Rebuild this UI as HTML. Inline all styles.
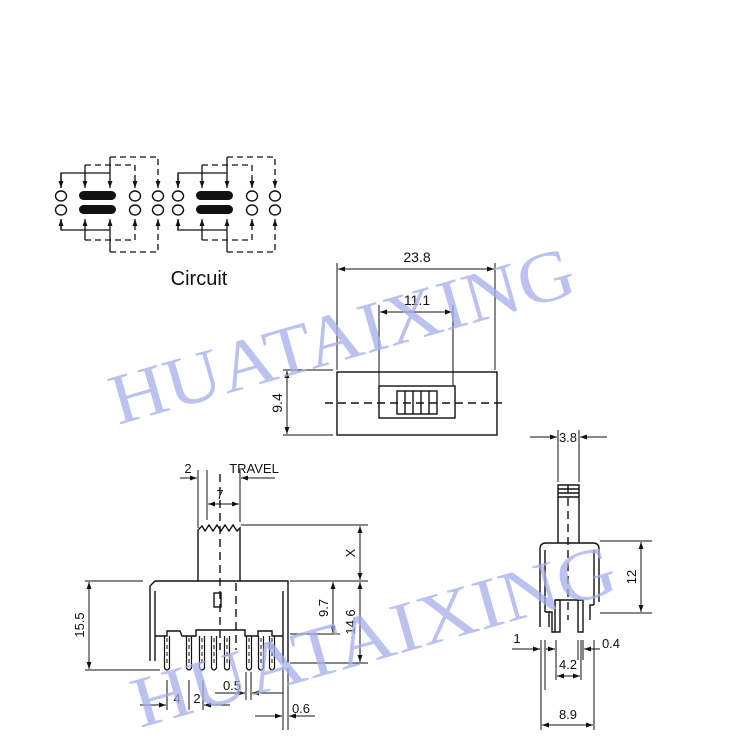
<!DOCTYPE html>
<html><head><meta charset="utf-8"><style>
html,body{margin:0;padding:0;background:#fff;}
svg{display:block;}
text{font-family:"Liberation Sans",Arial,sans-serif;fill:#111;}
.wm{font-family:"Liberation Serif",serif;fill:#a4aeea;fill-opacity:0.75;}
</style></head><body>
<svg width="735" height="744" viewBox="0 0 735 744" xmlns="http://www.w3.org/2000/svg">
<defs>
<marker id="a" viewBox="0 0 10 10" refX="10" refY="5" markerWidth="7" markerHeight="7" orient="auto-start-reverse" markerUnits="userSpaceOnUse"><path d="M0,1.5 L10,5 L0,8.5 z" fill="#111"/></marker>
<g id="cir">
  <g fill="none" stroke="#111" stroke-width="1.4">
    <ellipse cx="61" cy="196" rx="5.5" ry="5"/><ellipse cx="61" cy="210" rx="5.5" ry="5"/>
    <ellipse cx="135" cy="196" rx="5.5" ry="5"/><ellipse cx="135" cy="210" rx="5.5" ry="5"/>
    <ellipse cx="158" cy="196" rx="5.5" ry="5"/><ellipse cx="158" cy="210" rx="5.5" ry="5"/>
  </g>
  <rect x="79" y="191" width="37" height="9" rx="4.5" fill="#111"/>
  <rect x="79" y="205" width="37" height="9" rx="4.5" fill="#111"/>
  <g fill="none" stroke="#111" stroke-width="1.3">
    <polyline points="61,188 61,173 110,173"/>
    <line x1="61" y1="173" x2="61" y2="188" marker-end="url(#a)"/>
    <line x1="85" y1="165" x2="85" y2="188" marker-end="url(#a)"/>
    <line x1="110" y1="157" x2="110" y2="188" marker-end="url(#a)"/>
    <polyline points="61,219 61,230 110,230"/>
    <line x1="61" y1="230" x2="61" y2="219" marker-end="url(#a)"/>
    <line x1="85" y1="240" x2="85" y2="219" marker-end="url(#a)"/>
    <line x1="110" y1="252" x2="110" y2="219" marker-end="url(#a)"/>
  </g>
  <g fill="none" stroke="#111" stroke-width="1.3" stroke-dasharray="6,4">
    <polyline points="85,165 135,165 135,186"/>
    <polyline points="110,157 158,157 158,186"/>
    <polyline points="85,240 135,240 135,221"/>
    <polyline points="110,252 158,252 158,221"/>
  </g>
  <g fill="none" stroke="#111" stroke-width="1.3">
    <line x1="135" y1="180" x2="135" y2="188" marker-end="url(#a)"/>
    <line x1="158" y1="180" x2="158" y2="188" marker-end="url(#a)"/>
    <line x1="135" y1="226" x2="135" y2="219" marker-end="url(#a)"/>
    <line x1="158" y1="226" x2="158" y2="219" marker-end="url(#a)"/>
  </g>
</g>
</defs>

<!-- circuit -->
<use href="#cir"/>
<use href="#cir" transform="translate(117,0)"/>
<text x="199" y="285" font-size="20" text-anchor="middle">Circuit</text>

<!-- top view -->
<g fill="none" stroke="#111" stroke-width="1.4">
  <rect x="337" y="372" width="160" height="63"/>
  <rect x="379" y="386" width="76" height="32"/>
  <rect x="397" y="391" width="40" height="23"/>
  <line x1="405" y1="391" x2="405" y2="414"/><line x1="413" y1="391" x2="413" y2="414"/>
  <line x1="421" y1="391" x2="421" y2="414"/><line x1="429" y1="391" x2="429" y2="414"/>
  <line x1="325" y1="403" x2="505" y2="403" stroke-dasharray="8,5"/>
  <line x1="337" y1="263" x2="337" y2="370" stroke-width="1"/>
  <line x1="495" y1="263" x2="495" y2="370" stroke-width="1"/>
  <line x1="338" y1="269" x2="494" y2="269" stroke-width="1" marker-start="url(#a)" marker-end="url(#a)"/>
  <line x1="379" y1="305" x2="379" y2="386" stroke-width="1"/>
  <line x1="453" y1="305" x2="453" y2="386" stroke-width="1"/>
  <line x1="380" y1="312" x2="452" y2="312" stroke-width="1" marker-start="url(#a)" marker-end="url(#a)"/>
  <line x1="283" y1="370" x2="333" y2="370" stroke-width="1"/>
  <line x1="283" y1="435" x2="333" y2="435" stroke-width="1"/>
  <line x1="287" y1="371" x2="287" y2="434" stroke-width="1" marker-start="url(#a)" marker-end="url(#a)"/>
</g>
<text x="417" y="262" font-size="14" text-anchor="middle">23.8</text>
<text x="417" y="305" font-size="14" text-anchor="middle">11.1</text>
<text transform="translate(282,403) rotate(-90)" font-size="14" text-anchor="middle">9.4</text>

<!-- front view -->
<g fill="none" stroke="#111" stroke-width="1.4">
  <polyline points="198,581 198,530 202,526 205,531 209,525 213,531 217,525 221,531 225,525 229,531 233,525 237,531 240,528 240,581"/>
  <polyline points="150,661 150,586 155,581 288,581 288,663"/>
  <polyline points="155,661 155,591"/><polyline points="283,663 283,591"/>
  <polyline points="155,636 167,636 167,631 180,631 182,636 196,636 196,630 245,630 245,636 258,636 258,631 272,631 272,636 283,636"/>
  <rect x="214" y="593" width="7" height="14"/>
</g>
<g fill="none" stroke="#111" stroke-width="1.2">
  <path d="M164.5,636 V668 Q167,672 169.5,668 V636"/>
  <path d="M186.5,636 V668 Q189,672 191.5,668 V636"/>
  <path d="M199.5,636 V668 Q202,672 204.5,668 V636"/>
  <path d="M211.5,636 V668 Q214,672 216.5,668 V636"/>
  <path d="M224.5,636 V668 Q227,672 229.5,668 V636"/>
  <path d="M246.5,636 V668 Q249,672 251.5,668 V636"/>
  <path d="M258.5,636 V668 Q261,672 263.5,668 V636"/>
  <path d="M269.5,636 V668 Q272,672 274.5,668 V636"/>
</g>
<g stroke="#111" stroke-width="1" stroke-dasharray="4,3">
  <line x1="167" y1="638" x2="167" y2="666"/><line x1="189" y1="638" x2="189" y2="666"/>
  <line x1="202" y1="638" x2="202" y2="666"/><line x1="214" y1="638" x2="214" y2="666"/>
  <line x1="227" y1="638" x2="227" y2="666"/><line x1="249" y1="638" x2="249" y2="666"/>
  <line x1="261" y1="638" x2="261" y2="666"/><line x1="272" y1="638" x2="272" y2="666"/>
</g>
<g fill="none" stroke="#111" stroke-width="1.4" stroke-dasharray="8,5">
  <line x1="220" y1="474" x2="220" y2="650"/>
  <line x1="236" y1="583" x2="236" y2="650"/>
</g>
<g fill="none" stroke="#111" stroke-width="1">
  <line x1="198" y1="470" x2="198" y2="528"/>
  <line x1="207" y1="470" x2="207" y2="520"/>
  <line x1="240" y1="470" x2="240" y2="522"/>
  <line x1="180" y1="478" x2="197" y2="478" marker-end="url(#a)"/>
  <line x1="275" y1="478" x2="241" y2="478" marker-end="url(#a)"/>
  <line x1="208" y1="504" x2="239" y2="504" marker-start="url(#a)" marker-end="url(#a)"/>
  <line x1="241" y1="525" x2="368" y2="525"/>
  <line x1="290" y1="581" x2="368" y2="581"/>
  <line x1="360" y1="526" x2="360" y2="580" marker-start="url(#a)" marker-end="url(#a)"/>
  <line x1="85" y1="581" x2="143" y2="581"/>
  <line x1="85" y1="670" x2="160" y2="670"/>
  <line x1="89" y1="582" x2="89" y2="669" marker-start="url(#a)" marker-end="url(#a)"/>
  <line x1="290" y1="634" x2="340" y2="634"/>
  <line x1="333" y1="582" x2="333" y2="633" marker-start="url(#a)" marker-end="url(#a)"/>
  <line x1="290" y1="663" x2="368" y2="663"/>
  <line x1="360" y1="582" x2="360" y2="662" marker-start="url(#a)" marker-end="url(#a)"/>
  <line x1="167" y1="680" x2="167" y2="710"/>
  <line x1="189" y1="680" x2="189" y2="710"/>
  <line x1="203" y1="680" x2="203" y2="710"/>
  <line x1="140" y1="705" x2="166" y2="705" marker-end="url(#a)"/>
  <line x1="230" y1="705" x2="204" y2="705" marker-end="url(#a)"/>
  <line x1="246" y1="672" x2="246" y2="700"/>
  <line x1="251" y1="672" x2="251" y2="700"/>
  <line x1="215" y1="693" x2="245" y2="693" marker-end="url(#a)"/>
  <line x1="283" y1="693" x2="252" y2="693" marker-end="url(#a)"/>
  <line x1="283" y1="668" x2="283" y2="730"/>
  <line x1="288" y1="668" x2="288" y2="730"/>
  <line x1="255" y1="716" x2="282" y2="716" marker-end="url(#a)"/>
  <line x1="315" y1="716" x2="289" y2="716" marker-end="url(#a)"/>
</g>
<text x="188" y="473" font-size="13" text-anchor="middle">2</text>
<text x="254" y="473" font-size="13" text-anchor="middle">TRAVEL</text>
<text x="220" y="499" font-size="13" text-anchor="middle">7</text>
<text transform="translate(355,553) rotate(-90)" font-size="13" text-anchor="middle">X</text>
<text transform="translate(84,625) rotate(-90)" font-size="13" text-anchor="middle">15.5</text>
<text transform="translate(328,608) rotate(-90)" font-size="13" text-anchor="middle">9.7</text>
<text transform="translate(355,622) rotate(-90)" font-size="13" text-anchor="middle">14.6</text>
<text x="177" y="703" font-size="13" text-anchor="middle">4</text>
<text x="197" y="703" font-size="13" text-anchor="middle">2</text>
<text x="232" y="690" font-size="13" text-anchor="middle">0.5</text>
<text x="301" y="713" font-size="13" text-anchor="middle">0.6</text>

<!-- side view -->
<g fill="none" stroke="#111" stroke-width="1.4">
  <polyline points="558,543 558,485 579,485 579,543"/>
  <line x1="558" y1="489" x2="579" y2="489"/><line x1="558" y1="493" x2="579" y2="493"/><line x1="558" y1="497" x2="579" y2="497"/>
  <path d="M540,627 V549 Q540,543 546,543 H593 Q599,543 599,549 V602"/>
  <line x1="545" y1="550" x2="545" y2="612"/>
  <line x1="594" y1="550" x2="594" y2="605"/>
  <polyline points="545,612 549,612 549,627"/>
  <polyline points="594,605 590,605 590,620"/>
  <line x1="556" y1="600" x2="583" y2="600"/>
  <rect x="555" y="600" width="5" height="32"/>
  <rect x="578" y="600" width="5" height="32"/>
  <polyline points="549,612 552,612 552,632 555,632"/>
</g>
<line x1="568" y1="485" x2="568" y2="620" stroke="#111" stroke-width="1.4" stroke-dasharray="8,5"/>
<g fill="none" stroke="#111" stroke-width="1">
  <line x1="558" y1="430" x2="558" y2="482"/>
  <line x1="579" y1="430" x2="579" y2="482"/>
  <line x1="530" y1="437" x2="557" y2="437" marker-end="url(#a)"/>
  <line x1="607" y1="437" x2="580" y2="437" marker-end="url(#a)"/>
  <line x1="600" y1="541" x2="652" y2="541"/>
  <line x1="600" y1="613" x2="652" y2="613"/>
  <line x1="641" y1="542" x2="641" y2="612" marker-start="url(#a)" marker-end="url(#a)"/>
  <line x1="541" y1="640" x2="541" y2="730"/>
  <line x1="545" y1="640" x2="545" y2="690"/>
  <line x1="512" y1="649" x2="540" y2="649" marker-end="url(#a)"/>
  <line x1="556" y1="640" x2="556" y2="680"/>
  <line x1="581" y1="640" x2="581" y2="680"/>
  <line x1="546" y1="649" x2="555" y2="649" marker-end="url(#a)"/>
  <line x1="557" y1="676" x2="580" y2="676" marker-start="url(#a)" marker-end="url(#a)"/>
  <line x1="578" y1="640" x2="578" y2="660"/>
  <line x1="583" y1="640" x2="583" y2="660"/>
  <line x1="600" y1="649" x2="584" y2="649" marker-end="url(#a)"/>
  <line x1="594" y1="640" x2="594" y2="730"/>
  <line x1="542" y1="725" x2="593" y2="725" marker-start="url(#a)" marker-end="url(#a)"/>
</g>
<text x="568" y="442" font-size="13" text-anchor="middle">3.8</text>
<text transform="translate(636,577) rotate(-90)" font-size="13" text-anchor="middle">12</text>
<text x="517" y="643" font-size="13" text-anchor="middle">1</text>
<text x="568" y="669" font-size="13" text-anchor="middle">4.2</text>
<text x="611" y="648" font-size="13" text-anchor="middle">0.4</text>
<text x="568" y="719" font-size="13" text-anchor="middle">8.9</text>

<!-- watermarks -->
<text class="wm" transform="translate(118,425) rotate(-16)" font-size="72" textLength="480" lengthAdjust="spacingAndGlyphs">HUATAIXING</text>
<text class="wm" transform="translate(140,728) rotate(-16)" font-size="72" textLength="500" lengthAdjust="spacingAndGlyphs">HUATAIXING</text>
</svg>
</body></html>
